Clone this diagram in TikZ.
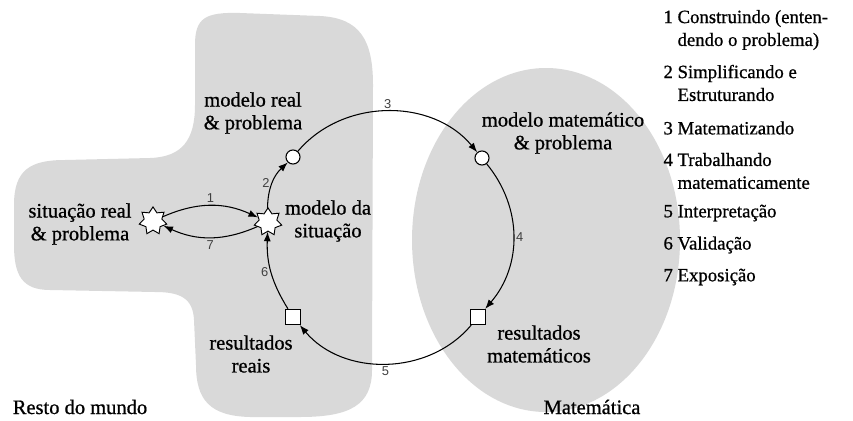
\documentclass[tikz,border=0pt]{standalone}
\usepackage{fontspec}
\setmainfont{Liberation Serif}[FakeBold=0.8]
\newfontfamily\numfont{Liberation Sans}
\usetikzlibrary{shapes.geometric,arrows.meta}

\begin{document}
\begin{tikzpicture}[x=0.03cm, y=-0.03cm, >={Latex[length=8pt,width=6pt]}, line width=0.9pt]
\tikzstyle{blob}=[fill=black!15]
\tikzstyle{lbl}=[font=\fontsize{17.5}{19.5}\selectfont, align=center, inner sep=0pt]
\tikzstyle{leg}=[font=\fontsize{16}{19.5}\selectfont, align=left, anchor=west, inner sep=0pt]
\tikzstyle{num}=[font=\numfont\fontsize{11}{13}\selectfont, text=black!75, inner sep=2pt]
\tikzstyle{burst}=[star, star points=7, star point ratio=1.55, draw, fill=white,
                   minimum size=24pt, inner sep=0pt, line width=0.8pt]
\tikzstyle{dot}=[circle, draw, fill=white, minimum size=12pt, inner sep=0pt]
\tikzstyle{box}=[rectangle, draw, fill=white, minimum size=13pt, inner sep=0pt]

\useasboundingbox (0,0) rectangle (853,420);

% the two worlds
\fill[blob] (195,105) -- (195,45)
  .. controls (195,18) and (205,12) .. (240,13) -- (320,16)
  .. controls (360,18) and (373,40) .. (373,85) -- (372,370)
  .. controls (372,405) and (350,417) .. (300,417) -- (250,417)
  .. controls (210,416) and (196,400) .. (196,365) -- (194,320)
  .. controls (193,298) and (180,292) .. (155,292) -- (50,290)
  .. controls (22,290) and (14,275) .. (14,245) -- (14,205)
  .. controls (14,170) and (30,160) .. (65,160) -- (150,158)
  .. controls (182,157) and (195,140) .. (195,105) -- cycle;
\fill[blob] (546,240) ellipse [x radius=134, y radius=172];

\node[burst] (S1) at (153,221) {};
\node[burst] (S2) at (268,222) {};
\node[dot] (M1) at (293,157) {};
\node[dot] (M2) at (482,158) {};
\node[box] (R2) at (478,317) {};
\node[box] (R1) at (293,317) {};

\node[lbl] (s1) at (80,224) {situação real\\\& problema};
\node[lbl] (s2) at (328,221) {modelo da\\situação};
\node[lbl] (m1) at (253,113) {modelo real\\\& problema};
\node[lbl] (m2) at (563,133) {modelo matemático\\\& problema};
\node[lbl] (r2) at (539,344) {resultados\\matemáticos};
\node[lbl] (r1) at (251,354) {resultados\\reais};

\draw[->] (S1) to[bend left=24] node[num, above] {1} (S2);
\draw[->] (S2) to[bend left=24] node[num, below] {7} (S1);
\draw[->] (S2) to[bend left=23] node[num, left] {2} (M1);
\draw[->] (M1) to[bend left=50] node[num, above] {3} (M2);
\draw[->] (M2) to[bend left=40] node[num, right] {4} (R2);
\draw[->] (R2) to[bend left=50] node[num, below] {5} (R1);
\draw[->] (R1) to[bend left=17] node[num, left] {6} (S2);

% legend
\node[leg] (l1) at (663,30) {1 Construindo (enten-\\\hphantom{1\ }dendo o problema)};
\node[leg] (l2) at (663,83) {2 Simplificando e\\\hphantom{2\ }Estruturando};
\node[leg] (l3) at (663,128) {3 Matematizando};
\node[leg] (l4) at (663,171) {4 Trabalhando\\\hphantom{4\ }matematicamente};
\node[leg] (l5) at (663,213) {5 Interpretação};
\node[leg] (l6) at (663,245) {6 Validação};
\node[leg] (l7) at (663,277) {7 Exposição};

\node[lbl] (world) at (80,407) {Resto do mundo};
\node[lbl] (math) at (592,407) {Matemática};
\end{tikzpicture}
\end{document}
